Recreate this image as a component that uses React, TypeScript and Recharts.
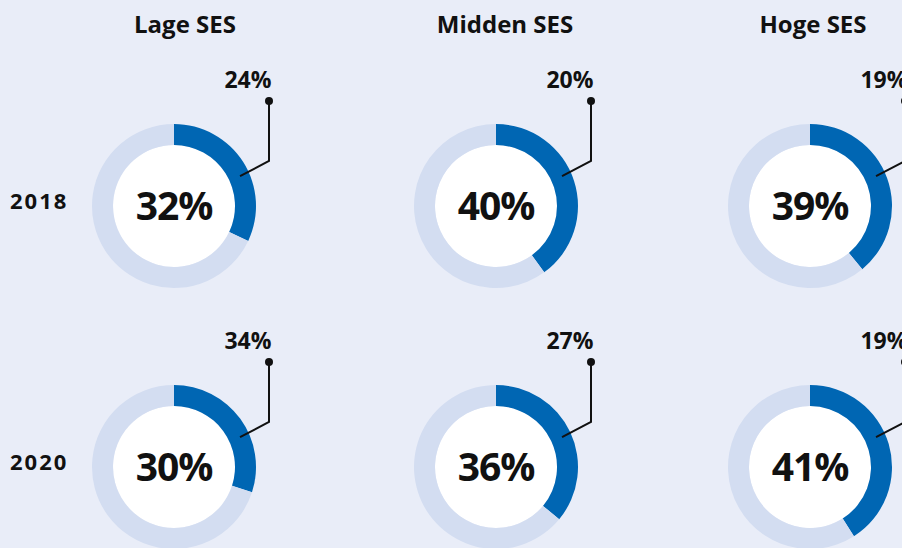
import React from 'react';
import { PieChart, Pie, Cell } from 'recharts';

const groups = ['Lage SES', 'Midden SES', 'Hoge SES'];
const years = ['2018', '2020'];
const shares2018 = [32, 40, 39];
const shares2020 = [30, 36, 41];
const callouts2018 = [24, 20, 19];
const callouts2020 = [34, 27, 19];

const rows = [
  { year: years[0], shares: shares2018, callouts: callouts2018 },
  { year: years[1], shares: shares2020, callouts: callouts2020 },
];

const colX = [174, 496, 810];
const rowY = [206, 467];
const titleX = [185, 505, 813];

const BG = '#e9edf8';
const TRACK = '#d3ddf1';
const BLUE = '#0066b3';
const FONT = '"Open Sans", "Noto Sans", sans-serif';

const makeLabel = (share: number, callout: number) => (props: any) => {
  if (props.index !== 0) return null;
  const { cx, cy } = props;
  const a = (65.6 * Math.PI) / 180;
  const sx = cx + 72.5 * Math.sin(a);
  const sy = cy - 72.5 * Math.cos(a);
  const ex = cx + 95;
  const ey = cy - 45;
  const dy = cy - 105;
  return (
    <g>
      <polyline points={`${sx},${sy} ${ex},${ey} ${ex},${dy}`} fill="none" stroke="#111" strokeWidth={2} />
      <circle cx={ex} cy={dy} r={4} fill="#111" />
      <text x={cx + 74} y={cy - 118} textAnchor="middle" fontFamily={FONT} fontWeight={700} fontSize={23} fill="#111">
        {callout}%
      </text>
      <text x={cx} y={cy + 14} textAnchor="middle" fontFamily={FONT} fontWeight={700} fontSize={39} letterSpacing={-1} fill="#111">
        {share}%
      </text>
    </g>
  );
};

export default function App() {
  return (
    <div style={{ position: 'relative', width: 902, height: 548, background: BG, overflow: 'hidden' }}>
      <style>{`body{margin:0}`}</style>
      <PieChart width={902} height={548} margin={{ top: 0, right: 0, bottom: 0, left: 0 }}>
        {rows.map((row, r) =>
          row.shares.map((v, c) => (
            <Pie
              key={`w-${r}-${c}`}
              data={[{ name: 'center', value: 1 }]}
              dataKey="value"
              cx={colX[c]}
              cy={rowY[r]}
              innerRadius={0}
              outerRadius={61}
              fill="#ffffff"
              stroke="none"
              isAnimationActive={false}
            />
          ))
        )}
        {rows.map((row, r) =>
          row.shares.map((v, c) => (
            <Pie
              key={`p-${r}-${c}`}
              data={[
                { name: 'share', value: v },
                { name: 'rest', value: 100 - v },
              ]}
              dataKey="value"
              cx={colX[c]}
              cy={rowY[r]}
              innerRadius={61}
              outerRadius={82}
              startAngle={90}
              endAngle={-270}
              stroke="none"
              labelLine={false}
              label={makeLabel(v, row.callouts[c])}
              isAnimationActive={false}
            >
              <Cell fill={BLUE} />
              <Cell fill={TRACK} />
            </Pie>
          ))
        )}
      </PieChart>
      {groups.map((g, i) => (
        <div
          key={g}
          style={{
            position: 'absolute', left: titleX[i] - 100, width: 200, top: 8, textAlign: 'center',
            fontFamily: FONT, fontWeight: 700, fontSize: 24, color: '#111', lineHeight: '32px',
          }}
        >
          {g}
        </div>
      ))}
      {rows.map((row, r) => (
        <div
          key={row.year}
          style={{
            position: 'absolute', left: 10, top: rowY[r] - 21, fontFamily: FONT, fontWeight: 700,
            fontSize: 22, color: '#111', lineHeight: '30px', letterSpacing: 2,
          }}
        >
          {row.year}
        </div>
      ))}
    </div>
  );
}
